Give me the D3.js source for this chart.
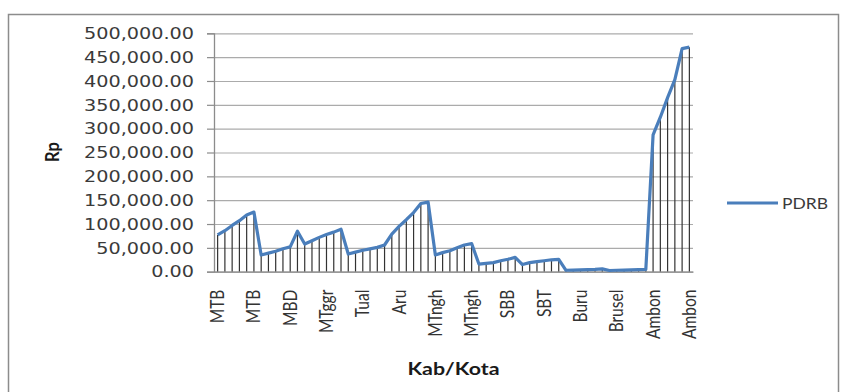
<!DOCTYPE html>
<html>
<head>
<meta charset="utf-8">
<script src="https://cdn.jsdelivr.net/npm/d3@7"></script>
<style>
  html, body { margin: 0; padding: 0; background: #fff; }
  svg { display: block; }
</style>
</head>
<body>
<svg id="chart" width="841" height="392"></svg>
<script>
// Kabupaten/Kota, six yearly observations each
const regions = ["MTB", "MBD", "MTggr", "Tual", "Aru", "MTngh", "SBB", "SBT", "Buru", "Brusel", "Ambon"];
const yearsPerRegion = 6;

// PDRB (Rp) per observation, in region order
const pdrb = [
  77000, 86000, 97000, 107000, 119000, 125000,     // MTB
  35000, 39000, 43000, 48000, 52000, 85000,        // MBD
  58000, 65000, 72000, 78000, 83000, 89000,        // MTggr
  37000, 41000, 45000, 48000, 51000, 56000,        // Tual
  79000, 95000, 109000, 124000, 143000, 146000,    // Aru
  35000, 40000, 44000, 50000, 56000, 59000,        // MTngh
  16000, 17500, 19000, 23000, 26000, 30000,        // SBB
  15000, 19000, 21000, 23000, 25000, 26000,        // SBT
  3000, 3500, 4000, 4500, 5000, 6000,              // Buru
  2500, 3000, 3500, 4000, 4500, 5000,              // Brusel
  287000, 324000, 365000, 403000, 468000, 471000   // Ambon
];

const yTicks = [0, 50000, 100000, 150000, 200000, 250000, 300000, 350000, 400000, 450000, 500000];
const labelEvery = 5;
const seriesName = "PDRB";
const xTitle = "Kab/Kota";
const yTitle = "Rp";

const categories = regions.flatMap(r => d3.range(yearsPerRegion).map(() => r));

const svg = d3.select("#chart");

// outer chart frame
svg.append("rect")
  .attr("x", 8.5).attr("y", 14.5)
  .attr("width", 830).attr("height", 400)
  .attr("fill", "#fff")
  .attr("stroke", "#8c8c8c")
  .attr("stroke-width", 1.5);

const plot = { left: 214, right: 693, top: 33.3, bottom: 271.7 };

const x = d3.scaleBand()
  .domain(d3.range(categories.length))
  .range([plot.left, plot.right]);

const y = d3.scaleLinear()
  .domain([0, 500000])
  .range([plot.bottom, plot.top]);

const cx = i => x(i) + x.bandwidth() / 2;

// horizontal gridlines
svg.append("g")
  .attr("transform", `translate(${plot.left},0)`)
  .call(d3.axisLeft(y).tickValues(yTicks).tickSize(-(plot.right - plot.left)).tickFormat(""))
  .call(g => g.select(".domain").remove())
  .call(g => g.selectAll("line").attr("stroke", "#ababab").attr("stroke-width", 1.2));

// value axis with labels
const yAxis = svg.append("g")
  .attr("transform", `translate(${plot.left},0)`)
  .call(d3.axisLeft(y).tickValues(yTicks).tickSize(7).tickPadding(13).tickFormat(d3.format(",.2f")));
yAxis.select(".domain").attr("stroke", "#8c8c8c").attr("stroke-width", 1.3);
yAxis.selectAll("line").attr("stroke", "#8c8c8c").attr("stroke-width", 1.2);
yAxis.selectAll("text")
  .attr("fill", "#3a3a3a")
  .style("font-family", "'DejaVu Sans', sans-serif")
  .style("font-size", "16.5px");
// widen tick labels horizontally
{
  const ref = yAxis.selectAll("text").filter(d => d === 500000).node();
  const k = 110 / ref.getComputedTextLength();
  yAxis.selectAll("text").each(function () {
    const w = this.getComputedTextLength();
    d3.select(this).attr("textLength", w * k).attr("lengthAdjust", "spacingAndGlyphs");
  });
}

// drop lines from each point to the category axis
svg.append("g")
  .selectAll("line")
  .data(pdrb)
  .join("line")
  .attr("x1", (d, i) => cx(i))
  .attr("x2", (d, i) => cx(i))
  .attr("y1", d => y(d))
  .attr("y2", y(0))
  .attr("stroke", "#333")
  .attr("stroke-width", 1.2);

// category axis
const xAxis = svg.append("g")
  .attr("transform", `translate(0,${plot.bottom})`)
  .call(d3.axisBottom(x)
    .tickValues(d3.range(0, categories.length, labelEvery))
    .tickSize(0)
    .tickFormat(i => categories[i]));
xAxis.select(".domain").attr("stroke", "#8c8c8c").attr("stroke-width", 1.3);
xAxis.selectAll("text")
  .attr("transform", "rotate(-90) scale(1,1.2)")
  .attr("x", -18)
  .attr("y", 0)
  .attr("dy", "0.35em")
  .style("text-anchor", "end")
  .attr("fill", "#333")
  .style("font-family", "Lato, sans-serif")
  .style("font-size", "15.5px");

// PDRB line
const line = d3.line()
  .x((d, i) => cx(i))
  .y(d => y(d));

svg.append("path")
  .datum(pdrb)
  .attr("d", line)
  .attr("fill", "none")
  .attr("stroke", "#4a7ebb")
  .attr("stroke-width", 3.2)
  .attr("stroke-linejoin", "round");

// axis titles
svg.append("text")
  .attr("transform", "translate(59,152) rotate(-90) scale(1,1.2)")
  .attr("text-anchor", "middle")
  .attr("fill", "#1a1a1a")
  .style("font-family", "Lato, sans-serif")
  .style("font-weight", "bold")
  .style("font-size", "16.5px")
  .text(yTitle);

svg.append("text")
  .attr("x", (plot.left + plot.right) / 2)
  .attr("y", 375)
  .attr("text-anchor", "middle")
  .attr("fill", "#1a1a1a")
  .attr("textLength", 92)
  .attr("lengthAdjust", "spacingAndGlyphs")
  .style("font-family", "Lato, sans-serif")
  .style("font-weight", "bold")
  .style("font-size", "16.5px")
  .text(xTitle);

// legend
const legend = svg.append("g").attr("transform", "translate(727,203)");
legend.append("line")
  .attr("x1", 0).attr("x2", 51)
  .attr("y1", 0).attr("y2", 0)
  .attr("stroke", "#4a7ebb")
  .attr("stroke-width", 3.2);
legend.append("text")
  .attr("x", 55)
  .attr("y", 5.5)
  .attr("fill", "#3a3a3a")
  .attr("textLength", 46)
  .attr("lengthAdjust", "spacingAndGlyphs")
  .style("font-family", "Lato, sans-serif")
  .style("font-size", "15.5px")
  .text(seriesName);
</script>
</body>
</html>
